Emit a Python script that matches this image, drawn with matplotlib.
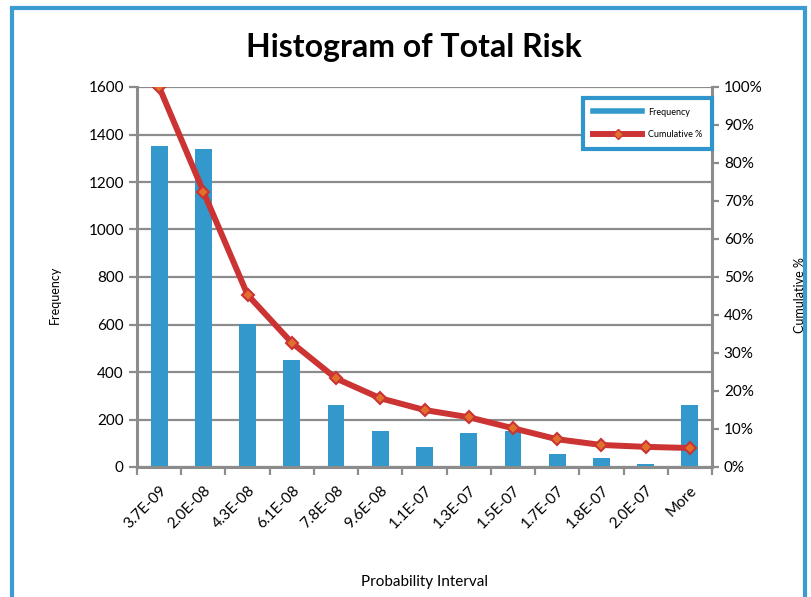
import numpy as np
import matplotlib
matplotlib.use("Agg")
import matplotlib.pyplot as plt
from matplotlib.patches import Rectangle
from matplotlib.lines import Line2D
from matplotlib.ticker import PercentFormatter

plt.rcParams['font.family'] = ['Lato', 'DejaVu Sans']

# data
bins = ["3.7E-09", "2.0E-08", "4.3E-08", "6.1E-08", "7.8E-08", "9.6E-08",
        "1.1E-07", "1.3E-07", "1.5E-07", "1.7E-07", "1.8E-07", "2.0E-07", "More"]
frequency = [1351, 1337, 601, 450, 261, 152, 86, 142, 152, 53, 37, 14, 261]
cumulative = [100.0, 72.5, 45.3, 32.7, 23.3, 18.1, 15.0, 13.1, 10.2, 7.3, 5.8, 5.3, 5.0]

bar_color = '#3399cc'
line_color = '#cc3333'
spine_gray = '#8c8c8c'

fig = plt.figure(figsize=(8.11, 5.97), dpi=100)
ax = fig.add_axes([137/811, 1 - 467/597, (712 - 137)/811, (467 - 87)/597])

x = np.arange(len(bins))
ax.bar(x, frequency, width=0.38, color=bar_color, zorder=2)
ax.set_xlim(-0.5, len(bins) - 0.5)
ax.set_ylim(0, 1600)
ax.set_yticks(np.arange(0, 1601, 200))
ax.yaxis.grid(True, color=spine_gray, linewidth=1.6, zorder=0)
ax.set_axisbelow(True)

# excel-style ticks at category boundaries, labels at centres
ax.set_xticks(x)
ax.set_xticklabels(bins, rotation=45, ha='right', rotation_mode='anchor', fontsize=11)
ax.set_xticks(np.arange(-0.5, len(bins)), minor=True)
ax.tick_params(axis='x', which='major', length=0, pad=12)
ax.tick_params(axis='x', which='minor', length=6, width=1.6, color=spine_gray)
ax.tick_params(axis='y', length=6, width=1.6, color=spine_gray, labelsize=11)

for s in ['top', 'right']:
    ax.spines[s].set_visible(False)
for s in ['left', 'bottom']:
    ax.spines[s].set_color(spine_gray)
    ax.spines[s].set_linewidth(2.2)

ax2 = ax.twinx()
ax2.plot(x, cumulative, color=line_color, linewidth=4.3, marker='D', markersize=6,
         markerfacecolor='#e0702c', markeredgecolor=line_color, markeredgewidth=1.5,
         zorder=3)
ax2.set_ylim(0, 100)
ax2.set_yticks(np.arange(0, 101, 10))
ax2.yaxis.set_major_formatter(PercentFormatter(decimals=0))
ax2.tick_params(axis='y', length=5, width=1.6, color=spine_gray, labelsize=11)
for s in ['top', 'left', 'bottom']:
    ax2.spines[s].set_visible(False)
ax2.spines['right'].set_color(spine_gray)
ax2.spines['right'].set_linewidth(2.2)

ax.set_xlabel('Probability Interval', fontsize=11)
ax.xaxis.set_label_coords(0.5, -(575 - 467) / 380)
fig.text(55/811, 1 - 295/597, 'Frequency', rotation=90, fontsize=9,
         ha='center', va='center')
fig.text(800/811, 1 - 295/597, 'Cumulative %', rotation=90, fontsize=9,
         ha='center', va='center')
fig.text(414/811, 1 - 47/597, 'Histogram of Total Risk', fontsize=23,
         fontweight='bold', ha='center', va='center')

handles = [Line2D([], [], color=bar_color, linewidth=4),
           Line2D([], [], color=line_color, linewidth=4.3, marker='D', markersize=5,
                  markerfacecolor='#e0702c', markeredgecolor=line_color)]
leg = ax2.legend(handles, ['Frequency', 'Cumulative %'], loc='upper right',
                 bbox_to_anchor=(1.0, 0.972), fontsize=6.5, frameon=True,
                 fancybox=False, framealpha=1, borderpad=1.1, labelspacing=1.5,
                 handlelength=5.5, handletextpad=0.6, borderaxespad=0)
leg.get_frame().set_edgecolor('#2f95cc')
leg.get_frame().set_linewidth(3)

# blue chart frame
fig.add_artist(Rectangle((12/811, -0.05), (805 - 12)/811, 1 - 8/597 + 0.05,
                         transform=fig.transFigure, fill=False,
                         edgecolor='#3c9bd0', linewidth=3))

fig.savefig('out.png', dpi=100)
